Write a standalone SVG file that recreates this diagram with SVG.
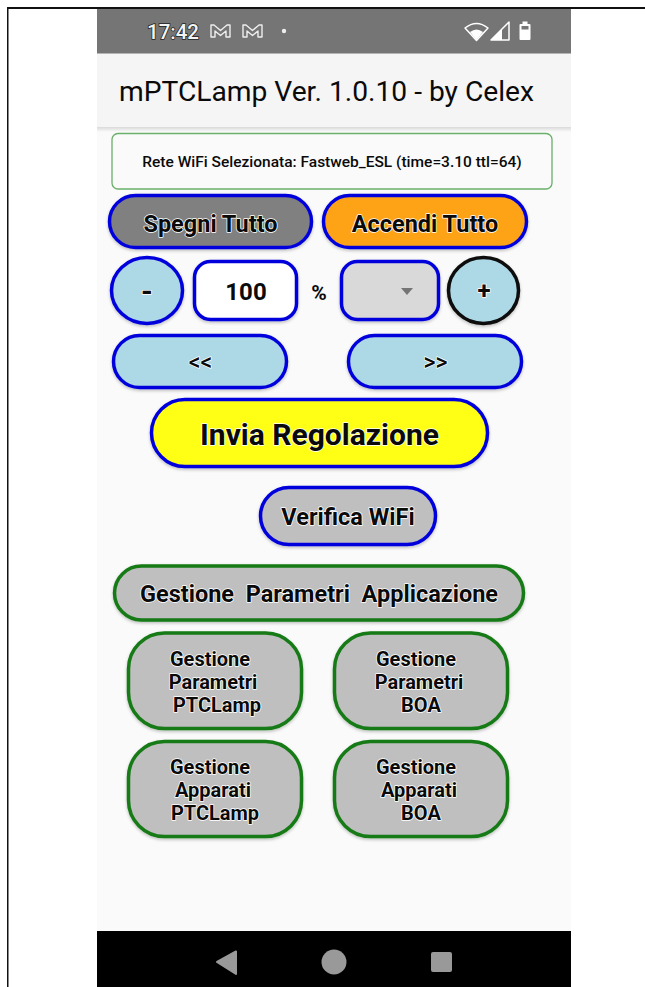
<svg xmlns="http://www.w3.org/2000/svg" width="645" height="987" viewBox="0 0 645 987">
<defs>
<filter id="sh" x="-10%" y="-15%" width="120%" height="135%"><feDropShadow dx="0" dy="1.500" stdDeviation="1.500" flood-color="#000" flood-opacity="0.25"/></filter>
<linearGradient id="fade" x1="0" y1="0" x2="0" y2="1"><stop offset="0" stop-color="#000" stop-opacity="0.13"/><stop offset="1" stop-color="#000" stop-opacity="0"/></linearGradient>
</defs>
<style>
text{font-family:Roboto,"Liberation Sans",sans-serif;fill:#0a0a0a}
.b{stroke:#0606dc;stroke-width:3.500;filter:url(#sh)}
.g{stroke:#167a16;stroke-width:3.500;fill:#bfbfbf;filter:url(#sh)}
.sky{fill:#add8e6}
.t{font-weight:700;text-anchor:middle;paint-order:stroke;stroke:#fff;stroke-width:1.500px;stroke-linejoin:round}
.t20{font-size:23.500px}
.t19{font-size:20px}
.nav{fill:#999}
.ic{fill:none;stroke:#eee;stroke-width:1.400;stroke-linejoin:round}
</style>
<rect width="645" height="987" fill="#fff"/>
<g id="frame" fill="#111"><rect x="7" y="7" width="638" height="2"/><rect x="7" y="7" width="1.500" height="980"/></g>
<g id="screen"><rect x="97" y="9" width="474" height="978" fill="#fafafa"/></g>
<g id="appbar"><rect x="97" y="53" width="474" height="74" fill="#f5f5f5"/><rect x="97" y="127" width="474" height="5" fill="url(#fade)"/>
<text x="119" y="101" font-size="28.200">mPTCLamp Ver. 1.0.10 - by Celex</text></g>
<g id="statusbar"><rect x="97" y="9" width="474" height="44.500" fill="#757575"/>
<text x="147" y="38.500" font-size="20.500" font-weight="500" style="fill:#f4f4f4;paint-order:stroke;stroke:#222;stroke-width:1.500px">17:42</text>
<path class="ic" d="M211 37V25h3l6.500 5.500 6.500-5.500h3v12h-4v-6l-5.500 4.500-5.500-4.500v6zM243 37V25h3l6.500 5.500 6.500-5.500h3v12h-4v-6l-5.500 4.500-5.500-4.500v6z"/>
<circle cx="284" cy="31" r="2.200" fill="#eee"/>
<path d="M465 28q11.500-9 23 0l-11.500 12.500z" fill="none" stroke="#fff" stroke-width="1.500" stroke-linejoin="round"/><path d="M470 32q6.500-5 13 0l-6.500 8z" fill="#fff"/>
<path d="M491 40 509 22v18z" fill="none" stroke="#fff" stroke-width="1.500" stroke-linejoin="round"/><path d="M491 40l11-11v11z" fill="#fff"/>
<path d="M519.500 25a1 1 0 0 1 1-1h2v-2.500h5v2.500h2a1 1 0 0 1 1 1v14a1 1 0 0 1-1 1h-9a1 1 0 0 1-1-1z" fill="#fff"/><rect x="521.500" y="26" width="7" height="3.500" fill="#777"/></g>
<g id="wifi-label"><rect x="112" y="133.500" width="440" height="55.500" rx="6" fill="#fafafa" stroke="#6ab06a" stroke-width="1.300"/>
<text x="332" y="167" text-anchor="middle" font-size="15.500" font-weight="500">Rete WiFi Selezionata: Fastweb_ESL (time=3.10 ttl=64)</text></g>
<g id="spegni"><rect class="b" x="109.500" y="195.500" width="202" height="52" rx="26" fill="#808080"/><text class="t t20" x="210.500" y="232">Spegni Tutto</text></g>
<g id="accendi"><rect class="b" x="323.500" y="195.500" width="203" height="52" rx="26" fill="#ffa317"/><text class="t t20" x="425" y="232">Accendi Tutto</text></g>
<g id="minus"><ellipse class="b sky" cx="147" cy="290.500" rx="35.500" ry="33"/><text class="t" x="147" y="301" font-size="30">-</text></g>
<g id="value"><rect class="b" x="194.500" y="261.500" width="102" height="58" rx="16" fill="#fff"/><text class="t" x="246" y="300" font-size="24" style="stroke:none">100</text></g>
<g id="percent"><text class="t" x="319" y="300" font-size="21" style="stroke:none">%</text></g>
<g id="select"><rect class="b" x="341.500" y="261.500" width="97" height="58" rx="16" fill="#d9d9d9"/><path d="M401 288h12l-6 7z" fill="#757575"/></g>
<g id="plus"><ellipse cx="483.500" cy="290.500" rx="35" ry="33" class="sky" stroke="#0a0a0a" stroke-width="3.500" filter="url(#sh)"/><text class="t" x="484" y="299" font-size="24">+</text></g>
<g id="prev"><rect class="b sky" x="113.500" y="335.500" width="173" height="52" rx="26"/><text class="t" x="200.500" y="370" font-size="23" style="font-weight:500">&lt;&lt;</text></g>
<g id="next"><rect class="b sky" x="348.500" y="335.500" width="173" height="52" rx="26"/><text class="t" x="435.500" y="370" font-size="23" style="font-weight:500">&gt;&gt;</text></g>
<g id="invia"><rect class="b" x="151.500" y="399.500" width="336" height="67" rx="33.500" fill="#ffff14"/><text class="t" x="319.500" y="444.500" font-size="30">Invia Regolazione</text></g>
<g id="verifica"><rect class="b" x="260.500" y="487.500" width="175" height="57" rx="28.500" fill="#bfbfbf"/><text class="t t20" x="348" y="525">Verifica WiFi</text></g>
<g id="gestione-app"><rect class="g" x="114.500" y="566" width="409" height="54" rx="27"/><text class="t" x="319" y="602" font-size="23.500" xml:space="preserve">Gestione  Parametri  Applicazione</text></g>
<g id="param-ptc"><rect class="g" x="128.500" y="633" width="173" height="95.500" rx="36"/><text class="t t19" x="210" y="666">Gestione</text><text class="t t19" x="213" y="688.500">Parametri</text><text class="t t19" x="217" y="711.500">PTCLamp</text></g>
<g id="param-boa"><rect class="g" x="334.500" y="633" width="173" height="95.500" rx="36"/><text class="t t19" x="416" y="666">Gestione</text><text class="t t19" x="419" y="688.500">Parametri</text><text class="t t19" x="421" y="711.500">BOA</text></g>
<g id="app-ptc"><rect class="g" x="128.500" y="741.500" width="173" height="95" rx="36"/><text class="t t19" x="210" y="774">Gestione</text><text class="t t19" x="213" y="797">Apparati</text><text class="t t19" x="215" y="820">PTCLamp</text></g>
<g id="app-boa"><rect class="g" x="334.500" y="741.500" width="173" height="95" rx="36"/><text class="t t19" x="416" y="774">Gestione</text><text class="t t19" x="419" y="797">Apparati</text><text class="t t19" x="421" y="820">BOA</text></g>
<g id="navbar"><rect x="97" y="931" width="474" height="56" fill="#000"/>
<path class="nav" d="M217 962 236 951.500v22.500z" stroke="#999" stroke-width="2" stroke-linejoin="round"/>
<ellipse class="nav" cx="334" cy="962" rx="12.500" ry="12.500"/>
<rect class="nav" x="431" y="952" width="21" height="20" rx="2"/></g>
</svg>
